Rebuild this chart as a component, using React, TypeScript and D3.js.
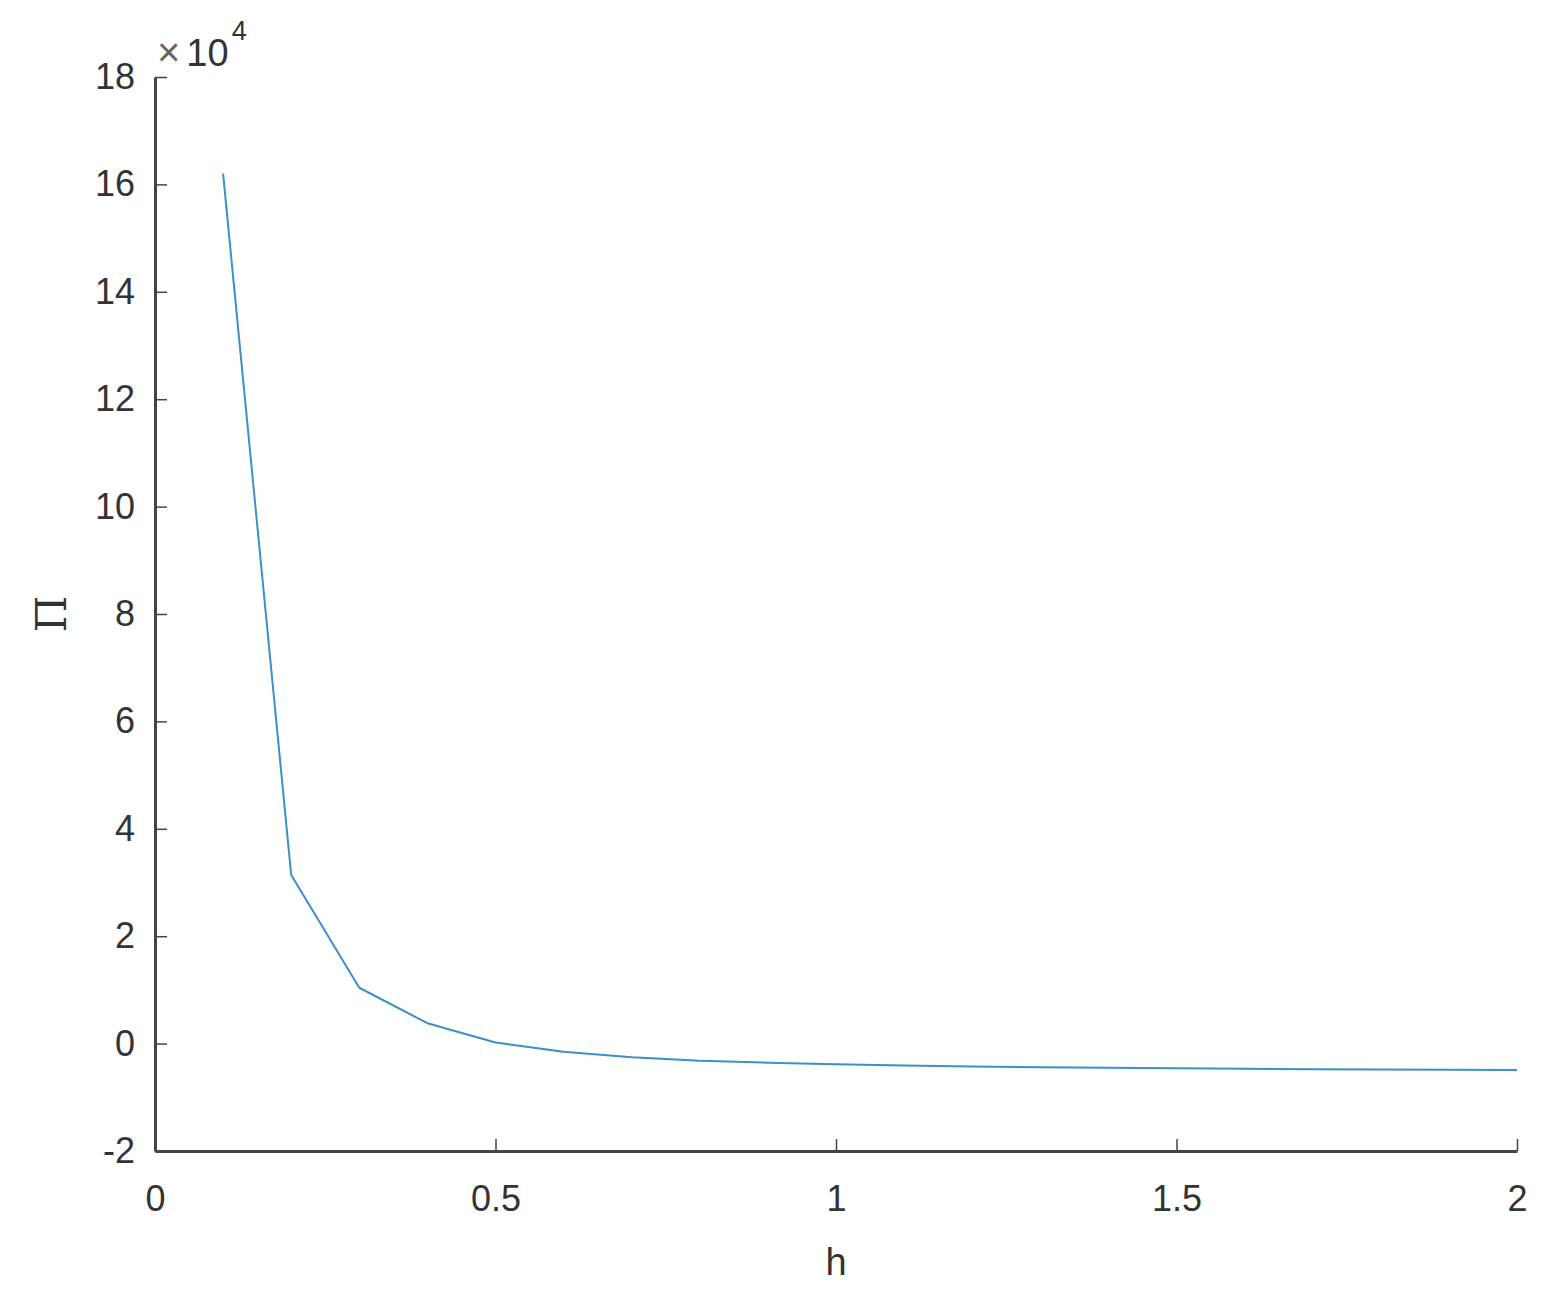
import React, { useEffect, useRef } from 'react';
import * as d3 from 'd3';

// h values and Pi values (x 10^4)
const hValues = [0.1, 0.2, 0.3, 0.4, 0.5, 0.6, 0.7, 0.8, 0.9, 1.0,
  1.1, 1.2, 1.3, 1.4, 1.5, 1.6, 1.7, 1.8, 1.9, 2.0];
const piValues = [16.2, 3.14, 1.04, 0.38, 0.02, -0.15, -0.255, -0.32, -0.356, -0.386,
  -0.408, -0.427, -0.44, -0.45, -0.46, -0.47, -0.477, -0.482, -0.488, -0.49];
const xTicks = [0, 0.5, 1, 1.5, 2];
const yTicks = [-2, 0, 2, 4, 6, 8, 10, 12, 14, 16, 18];

const W = 1563, H = 1307;
const margin = { top: 77, right: 46, bottom: 156, left: 155 };

const App = () => {
  const svgRef = useRef<SVGSVGElement>(null);

  useEffect(() => {
    const svg = d3.select(svgRef.current);
    svg.selectAll('*').remove();

    const x = d3.scaleLinear().domain([0, 2]).range([margin.left, W - margin.right]);
    const y = d3.scaleLinear().domain([-2, 18]).range([H - margin.bottom, margin.top]);
    const axisColor = '#444444';
    const textColor = '#333333';
    const font = 'Arial, "Liberation Sans", sans-serif';

    // x axis (ticks point inward like matlab)
    const gx = svg.append('g')
      .attr('transform', `translate(0,${y(-2)})`)
      .call(d3.axisBottom(x).tickValues(xTicks).tickSizeInner(-12).tickSizeOuter(0)
        .tickPadding(34).tickFormat(d => String(d)));
    gx.select('.domain').attr('stroke', axisColor).attr('stroke-width', 3);
    gx.selectAll('.tick line').attr('stroke', axisColor).attr('stroke-width', 1.5);
    gx.selectAll('.tick text').attr('fill', textColor).attr('font-size', 36)
      .attr('font-family', font).attr('dy', '0.71em');

    // y axis
    const gy = svg.append('g')
      .attr('transform', `translate(${x(0)},0)`)
      .call(d3.axisLeft(y).tickValues(yTicks).tickSizeInner(-12).tickSizeOuter(0)
        .tickPadding(20).tickFormat(d => String(d)));
    gy.select('.domain').attr('stroke', axisColor).attr('stroke-width', 3);
    gy.selectAll('.tick line').attr('stroke', axisColor).attr('stroke-width', 1.5);
    gy.selectAll('.tick text').attr('fill', textColor).attr('font-size', 36)
      .attr('font-family', font);

    // exponent label
    const ex = svg.append('text')
      .attr('x', x(0) + 2).attr('y', 66)
      .attr('fill', textColor).attr('font-family', font);
    ex.append('tspan').attr('font-size', 40).attr('fill', '#666').text('×');
    ex.append('tspan').attr('font-size', 38).attr('dx', 6).text('10');
    ex.append('tspan').attr('font-size', 27).attr('dx', 3).attr('dy', -26).text('4');

    // the curve
    const line = d3.line<number>()
      .x((d, i) => x(hValues[i]))
      .y(d => y(d));
    svg.append('path')
      .datum(piValues)
      .attr('fill', 'none')
      .attr('stroke', '#3d8fc6')
      .attr('stroke-width', 2)
      .attr('stroke-linejoin', 'round')
      .attr('d', line);

    // axis labels
    svg.append('text')
      .attr('x', (x(0) + x(2)) / 2).attr('y', 1275)
      .attr('text-anchor', 'middle')
      .attr('fill', textColor).attr('font-size', 38).attr('font-family', font)
      .text('h');
    svg.append('text')
      .attr('transform', `translate(66,${y(8)}) rotate(-90)`)
      .attr('text-anchor', 'middle')
      .attr('fill', textColor).attr('font-size', 42)
      .attr('font-family', '"DejaVu Serif", "Liberation Serif", serif')
      .text('Π');
  }, []);

  return (
    <div style={{ position: 'absolute', left: 0, top: 0 }}>
      <svg ref={svgRef} width={W} height={H} style={{ background: '#fff', display: 'block' }} />
    </div>
  );
};

export default App;
